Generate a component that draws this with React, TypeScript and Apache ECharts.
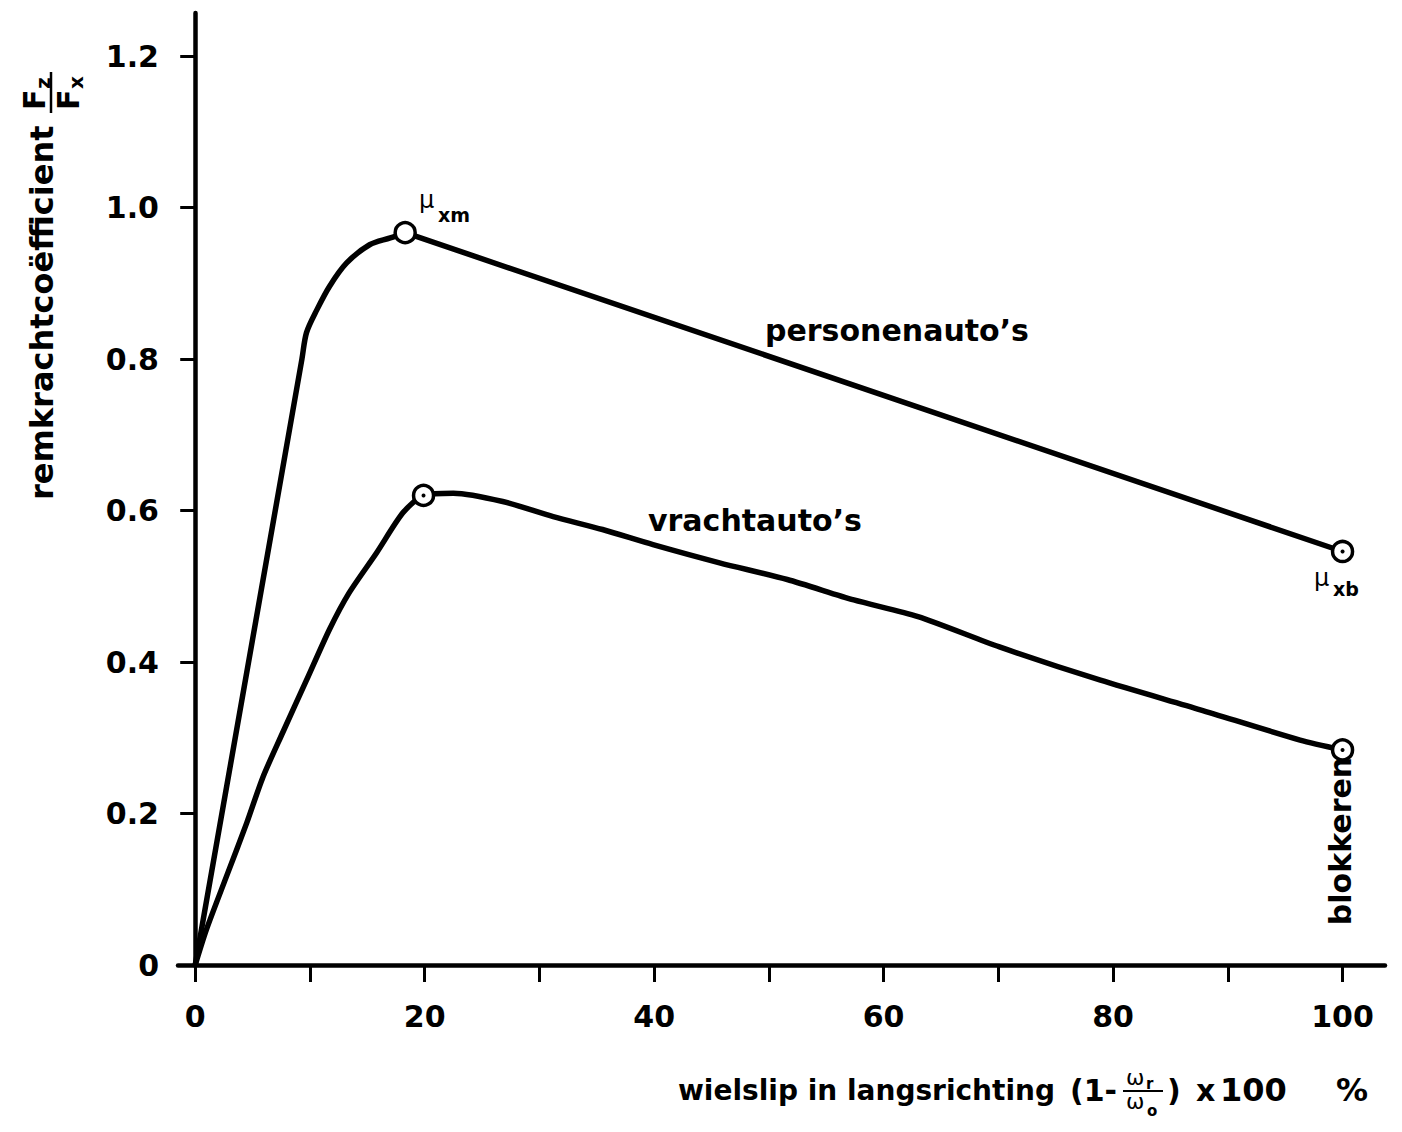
import React, { useEffect, useRef } from "react";
import * as echarts from "echarts";

// Axis ticks and labels
const slipTicks = [0, 10, 20, 30, 40, 50, 60, 70, 80, 90, 100];
const slipLabels = [0, 20, 40, 60, 80, 100];
const muTicks = [0, 0.2, 0.4, 0.6, 0.8, 1.0, 1.2];

// Passenger cars: brake force coefficient vs. longitudinal wheel slip (%)
// rising part up to the maximum, then the straight fall to the locked wheel
const personenRiseSlip = [0, 9.3, 9.7, 10.6, 11.7, 13.2, 15.2, 17.0, 18.3];
const personenRiseMu = [0, 0.8, 0.835, 0.865, 0.896, 0.927, 0.951, 0.96, 0.967];
const personenFallSlip = [18.3, 100];
const personenFallMu = [0.967, 0.546];

// Trucks
const vrachtSlip = [0, 0.96, 2.7, 4.5, 5.9, 7.6, 9.7, 11.7, 13.4, 15.8, 18.1, 19.9, 22.5, 26.8, 31.2, 35.5, 39.9, 45.7, 51.6, 57.4, 63.0, 70.1, 78.9, 87.6, 96.3, 100];
const vrachtMu = [0, 0.046, 0.116, 0.188, 0.248, 0.306, 0.376, 0.443, 0.491, 0.544, 0.597, 0.62, 0.623, 0.612, 0.592, 0.575, 0.555, 0.531, 0.509, 0.482, 0.46, 0.42, 0.376, 0.337, 0.297, 0.284];

// Open circles (peak and locked-wheel values), some with a centre dot
const markerSlip = [18.3, 19.9, 100, 100];
const markerMu = [0.967, 0.62, 0.546, 0.284];
const dotSlip = [19.9, 100, 100];
const dotMu = [0.62, 0.546, 0.284];

const FONT = "'DejaVu Sans', sans-serif";
const bold = (size: number) => `bold ${size}px ${FONT}`;
const plain = (size: number) => `${size}px ${FONT}`;

const zip = (xs: number[], ys: number[]) => xs.map((x, i) => [x, ys[i]]);

function txt(text: string, x: number, y: number, font: string, extra: any = {}) {
  return {
    type: "text",
    x,
    y,
    ...extra,
    style: { text, font, fill: "#000", align: "left", verticalAlign: "middle", ...(extra.style || {}) },
  };
}

export default function App() {
  const ref = useRef<HTMLDivElement>(null);

  useEffect(() => {
    if (!ref.current) return;
    const chart = echarts.init(ref.current, undefined, { renderer: "svg" });

    const axisLabelStyle = {
      color: "#000",
      fontFamily: FONT,
      fontWeight: "bold" as const,
      fontSize: 30,
    };

    const curveStyle = { color: "#000", width: 5.5, cap: "round" as const, join: "round" as const };

    const option: any = {
      animation: false,
      backgroundColor: "#fff",
      grid: { left: 178, right: 17, top: 13, bottom: 167, containLabel: false },
      xAxis: {
        type: "value",
        min: -1.5,
        max: 103.7,
        splitLine: { show: false },
        axisLine: { show: true, onZero: true, lineStyle: { color: "#000", width: 4.5 } },
        axisTick: { show: true, customValues: slipTicks, length: 17, lineStyle: { color: "#000", width: 3 } },
        axisLabel: { ...axisLabelStyle, customValues: slipLabels, margin: 36 },
      },
      yAxis: {
        type: "value",
        min: 0,
        max: 1.257,
        splitLine: { show: false },
        axisLine: { show: true, onZero: true, lineStyle: { color: "#000", width: 4.5 } },
        axisTick: { show: true, customValues: muTicks, length: 15, lineStyle: { color: "#000", width: 3 } },
        axisLabel: {
          ...axisLabelStyle,
          customValues: muTicks,
          margin: 19,
          formatter: (v: number) => (v === 0 ? "0" : v.toFixed(1)),
        },
      },
      series: [
        {
          name: "personenauto\u2019s",
          type: "line",
          data: zip(personenRiseSlip, personenRiseMu),
          showSymbol: false,
          smooth: 0.3,
          lineStyle: curveStyle,
          z: 3,
        },
        {
          name: "personenauto\u2019s",
          type: "line",
          data: zip(personenFallSlip, personenFallMu),
          showSymbol: false,
          smooth: false,
          lineStyle: curveStyle,
          z: 3,
        },
        {
          name: "vrachtauto\u2019s",
          type: "line",
          data: zip(vrachtSlip, vrachtMu),
          showSymbol: false,
          smooth: 0.25,
          lineStyle: curveStyle,
          z: 3,
        },
        {
          type: "scatter",
          data: zip(markerSlip, markerMu),
          symbol: "circle",
          symbolSize: 20,
          itemStyle: { color: "#fff", borderColor: "#000", borderWidth: 3.5, opacity: 1 },
          z: 5,
        },
        {
          type: "scatter",
          data: zip(dotSlip, dotMu),
          symbol: "circle",
          symbolSize: 4,
          itemStyle: { color: "#000", opacity: 1 },
          z: 6,
        },
      ],
      graphic: [
        // curve labels
        txt("personenauto\u2019s", 765, 330, bold(30)),
        txt("vrachtauto\u2019s", 648, 520, bold(30)),
        // mu_xm
        txt("\u03bc", 419, 200, plain(24)),
        txt("xm", 438, 215, bold(19)),
        // mu_xb
        txt("\u03bc", 1314, 578, plain(24)),
        txt("xb", 1333, 589, bold(19)),
        // blokkeren (vertical)
        {
          type: "text",
          x: 1340,
          y: 841,
          rotation: Math.PI / 2,
          style: { text: "blokkeren", font: bold(30), fill: "#000", align: "center", verticalAlign: "middle" },
        },
        // y-axis title with Fz/Fx fraction
        {
          type: "group",
          x: 42,
          y: 500,
          rotation: Math.PI / 2,
          children: [
            txt("remkrachtco\u00ebfficient", 0, 0, bold(32)),
            txt("F", 390, -8, bold(30)),
            txt("z", 411, 1, bold(20)),
            { type: "line", shape: { x1: 387, y1: 9, x2: 428, y2: 9 }, style: { stroke: "#000", lineWidth: 2.5 } },
            txt("F", 390, 26, bold(30)),
            txt("x", 411, 34, bold(20)),
          ],
        },
        // x-axis title with omega fraction
        txt("wielslip in langsrichting", 678, 1090, bold(28)),
        txt("(1-", 1070, 1090, bold(30)),
        txt("\u03c9", 1126, 1077, plain(22)),
        txt("r", 1146, 1084, bold(15)),
        { type: "line", shape: { x1: 1123, y1: 1091, x2: 1163, y2: 1091 }, style: { stroke: "#000", lineWidth: 2 } },
        txt("\u03c9", 1126, 1101, plain(22)),
        txt("o", 1147, 1111, bold(15)),
        txt(")", 1167, 1090, bold(30)),
        txt("x", 1196, 1090, bold(30)),
        txt("100", 1220, 1090, bold(32)),
        txt("%", 1368, 1090, bold(32), { style: { align: "right" } }),
      ],
    };

    chart.setOption(option);
    return () => chart.dispose();
  }, []);

  return (
    <div
      ref={ref}
      style={{ position: "fixed", left: 0, top: 0, width: 1402, height: 1132, background: "#fff" }}
    />
  );
}
